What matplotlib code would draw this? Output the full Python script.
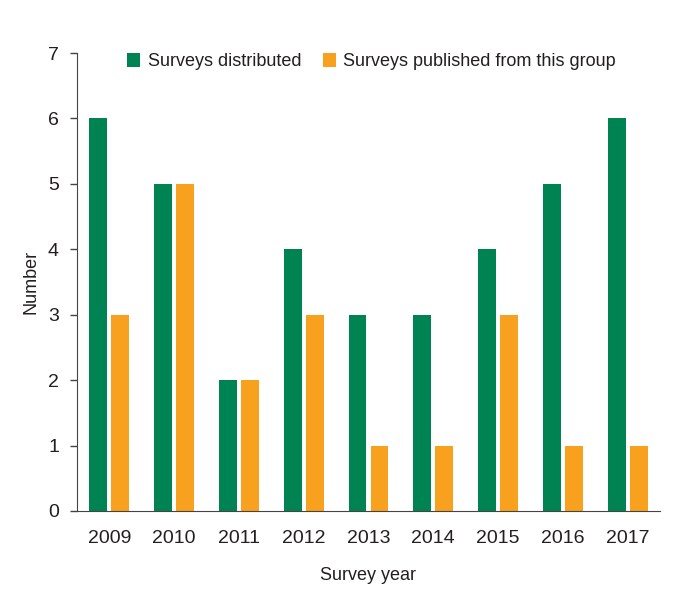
import numpy as np
import matplotlib.pyplot as plt

years = ['2009', '2010', '2011', '2012', '2013', '2014', '2015', '2016', '2017']
distributed = [6, 5, 2, 4, 3, 3, 4, 5, 6]
published = [3, 5, 2, 3, 1, 1, 3, 1, 1]

plt.rcParams['font.family'] = ['Liberation Sans', 'DejaVu Sans']
txt = '#231f20'

fig = plt.figure(figsize=(6.79, 5.99), dpi=100)
ax = fig.add_axes([0.1134, 0.147, 0.8586, 0.7645])

x = np.arange(len(years))
w = 0.277
ax.bar(x - 0.17, distributed, w, color='#008352', label='Surveys distributed')
ax.bar(x + 0.17, published, w, color='#f7a11f', label='Surveys published from this group')

ax.set_xlim(-0.5, 8.5)
ax.set_ylim(0, 7)
ax.set_xticks(x)
ax.set_xticklabels(years)
ax.set_yticks(range(8))
ax.tick_params(axis='x', length=0, pad=14, labelsize=14, colors=txt)
ax.tick_params(axis='y', length=5, width=1, pad=8, labelsize=14, colors=txt)
ax.tick_params(axis='y', color='#444444')
for s in ['top', 'right']:
    ax.spines[s].set_visible(False)
for s in ['left', 'bottom']:
    ax.spines[s].set_color('#444444')
ax.set_xlabel('Survey year', fontsize=13, color=txt, labelpad=14)
ax.set_ylabel('Number', fontsize=13, color=txt, labelpad=6)
ax.legend(loc='upper center', bbox_to_anchor=(0.505, 1.035), ncol=2, frameon=False,
          fontsize=13, handlelength=0.75, handleheight=0.75, columnspacing=1.2,
          handletextpad=0.4, labelcolor=txt)

fig.savefig('out.png', dpi=100)
